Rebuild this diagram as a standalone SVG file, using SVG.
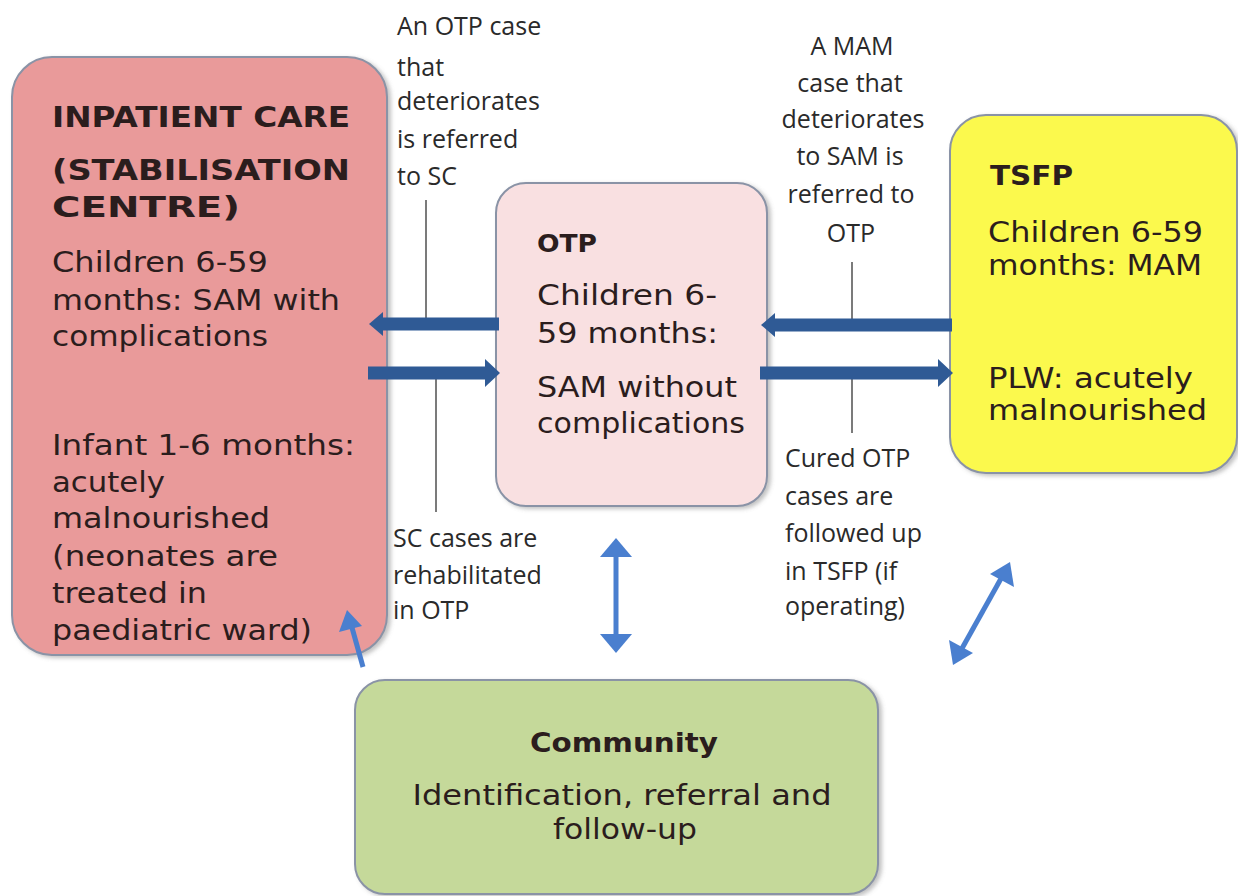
<svg xmlns="http://www.w3.org/2000/svg" width="1238" height="896" viewBox="0 0 1238 896">
<defs>
<style>
.box{stroke:#8a93a6;stroke-width:2}
.bt{font-family:"DejaVu Sans",Verdana,sans-serif;fill:#2b1d1d}
.b{font-weight:bold}
.lb{font-family:"Open Sans","Liberation Sans",Arial,sans-serif;font-size:25px;fill:#2a2a2a}
.thin{stroke:#5a5a5a;stroke-width:1.6;fill:none}
.heavy{stroke:#2f5a95;stroke-width:13;fill:none}
.hh{fill:#2f5a95}
.lt{stroke:#4a7fcf;stroke-width:5;fill:none}
.lh{fill:#4a7fcf}
</style>
<filter id="sh" x="-5%" y="-5%" width="115%" height="115%">
<feDropShadow dx="3" dy="2" stdDeviation="2" flood-color="#777" flood-opacity="0.45"/>
</filter>
</defs>
<rect width="1238" height="896" fill="#ffffff"/>

<g id="inpatient">
<rect class="box" x="12" y="57" width="375" height="598" rx="40" fill="#e99a9a" filter="url(#sh)"/>
<text class="bt b" font-size="29" x="52" y="127" textLength="298" lengthAdjust="spacingAndGlyphs">INPATIENT CARE</text>
<text class="bt b" font-size="29" x="52" y="180" textLength="298" lengthAdjust="spacingAndGlyphs">(STABILISATION</text>
<text class="bt b" font-size="29" x="52" y="217" textLength="188" lengthAdjust="spacingAndGlyphs">CENTRE)</text>
<text class="bt" font-size="29" x="52" y="272" textLength="216" lengthAdjust="spacingAndGlyphs">Children 6-59</text>
<text class="bt" font-size="29" x="52" y="310" textLength="288" lengthAdjust="spacingAndGlyphs">months: SAM with</text>
<text class="bt" font-size="29" x="52" y="346" textLength="216" lengthAdjust="spacingAndGlyphs">complications</text>
<text class="bt" font-size="29" x="52" y="455" textLength="303" lengthAdjust="spacingAndGlyphs">Infant 1-6 months:</text>
<text class="bt" font-size="29" x="52" y="492" textLength="113" lengthAdjust="spacingAndGlyphs">acutely</text>
<text class="bt" font-size="29" x="52" y="528" textLength="218" lengthAdjust="spacingAndGlyphs">malnourished</text>
<text class="bt" font-size="29" x="52" y="566" textLength="226" lengthAdjust="spacingAndGlyphs">(neonates are</text>
<text class="bt" font-size="29" x="52" y="603" textLength="155" lengthAdjust="spacingAndGlyphs">treated in</text>
<text class="bt" font-size="29" x="52" y="640" textLength="260" lengthAdjust="spacingAndGlyphs">paediatric ward)</text>
</g>

<g id="otp">
<rect class="box" x="496" y="183" width="271" height="323" rx="30" fill="#f9e0e1" filter="url(#sh)"/>
<text class="bt b" font-size="24" x="537" y="252" textLength="60" lengthAdjust="spacingAndGlyphs">OTP</text>
<text class="bt" font-size="28" x="537" y="305" textLength="180" lengthAdjust="spacingAndGlyphs">Children 6-</text>
<text class="bt" font-size="28" x="537" y="343" textLength="181" lengthAdjust="spacingAndGlyphs">59 months:</text>
<text class="bt" font-size="28" x="537" y="397" textLength="200" lengthAdjust="spacingAndGlyphs">SAM without</text>
<text class="bt" font-size="28" x="537" y="433" textLength="208" lengthAdjust="spacingAndGlyphs">complications</text>
</g>

<g id="tsfp">
<rect class="box" x="950" y="115" width="287" height="358" rx="36" fill="#fbf94d" filter="url(#sh)"/>
<text class="bt b" font-size="26" x="990" y="185" textLength="83" lengthAdjust="spacingAndGlyphs">TSFP</text>
<text class="bt" font-size="28" x="988" y="242" textLength="215" lengthAdjust="spacingAndGlyphs">Children 6-59</text>
<text class="bt" font-size="28" x="988" y="275" textLength="214" lengthAdjust="spacingAndGlyphs">months: MAM</text>
<text class="bt" font-size="28" x="988" y="388" textLength="205" lengthAdjust="spacingAndGlyphs">PLW: acutely</text>
<text class="bt" font-size="28" x="988" y="420" textLength="219" lengthAdjust="spacingAndGlyphs">malnourished</text>
</g>

<g id="community">
<rect class="box" x="355" y="680" width="523" height="214" rx="30" fill="#c5d99a" filter="url(#sh)"/>
<text class="bt b" font-size="26" x="624" y="752" text-anchor="middle" textLength="188" lengthAdjust="spacingAndGlyphs">Community</text>
<text class="bt" font-size="29" x="622" y="805" text-anchor="middle" textLength="419" lengthAdjust="spacingAndGlyphs">Identification, referral and</text>
<text class="bt" font-size="29" x="625" y="839" text-anchor="middle" textLength="144" lengthAdjust="spacingAndGlyphs">follow-up</text>
</g>

<g id="label-otp-to-sc">
<text class="lb" x="397" y="35">An OTP case</text>
<text class="lb" x="397" y="76">that</text>
<text class="lb" x="397" y="110">deteriorates</text>
<text class="lb" x="397" y="148">is referred</text>
<text class="lb" x="397" y="185">to SC</text>
</g>

<g id="label-mam-to-otp">
<text class="lb" x="852" y="55" text-anchor="middle">A MAM</text>
<text class="lb" x="850" y="92" text-anchor="middle">case that</text>
<text class="lb" x="853" y="128" text-anchor="middle">deteriorates</text>
<text class="lb" x="850" y="165" text-anchor="middle">to SAM is</text>
<text class="lb" x="851" y="203" text-anchor="middle">referred to</text>
<text class="lb" x="851" y="242" text-anchor="middle">OTP</text>
</g>

<g id="label-sc-to-otp">
<text class="lb" x="393" y="547">SC cases are</text>
<text class="lb" x="393" y="584">rehabilitated</text>
<text class="lb" x="393" y="619">in OTP</text>
</g>

<g id="label-otp-to-tsfp">
<text class="lb" x="785" y="467">Cured OTP</text>
<text class="lb" x="785" y="505">cases are</text>
<text class="lb" x="785" y="542">followed up</text>
<text class="lb" x="785" y="580">in TSFP (if</text>
<text class="lb" x="785" y="615">operating)</text>
</g>

<g id="connectors">
<line class="thin" x1="426" y1="200" x2="426" y2="318"/>
<line class="thin" x1="436" y1="378" x2="436" y2="512"/>
<line class="thin" x1="852" y1="262" x2="852" y2="320"/>
<line class="thin" x1="852" y1="378" x2="852" y2="433"/>

<line class="heavy" x1="499" y1="324" x2="382" y2="324"/>
<polygon class="hh" points="369,324 383,312 383,336"/>
<line class="heavy" x1="368" y1="373" x2="486" y2="373"/>
<polygon class="hh" points="500,373 485,359 485,387"/>
<line class="heavy" x1="952" y1="325" x2="774" y2="325"/>
<polygon class="hh" points="761,325 775,313 775,337"/>
<line class="heavy" x1="760" y1="373" x2="938" y2="373"/>
<polygon class="hh" points="953,373 938,359 938,387"/>

<line class="lt" x1="616" y1="552" x2="616" y2="638"/>
<polygon class="lh" points="616,538 600,557 632,557"/>
<polygon class="lh" points="616,653 600,634 632,634"/>

<line class="lt" x1="1003" y1="575" x2="960" y2="652"/>
<polygon class="lh" points="1010,562 990,574 1014,587"/>
<polygon class="lh" points="953,665 973,653 949,640"/>

<line class="lt" x1="363" y1="667" x2="351" y2="624"/>
<polygon class="lh" points="347,610 339,632 362,626"/>
</g>
</svg>
